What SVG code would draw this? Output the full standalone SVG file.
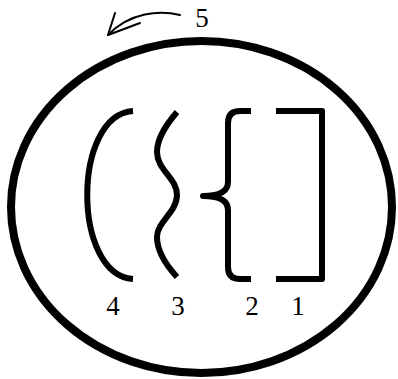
<svg xmlns="http://www.w3.org/2000/svg" width="398" height="379" viewBox="0 0 398 379">
<style>
.b{fill:none;stroke:#000;stroke-width:6;stroke-linecap:butt;stroke-linejoin:round}
.t{font-family:"Liberation Serif","Times New Roman",serif;font-size:27px;fill:#000;text-anchor:middle}
.a{fill:none;stroke:#000;stroke-width:2;stroke-linecap:round;stroke-linejoin:round}
</style>
<rect width="398" height="379" fill="#fff"/>
<g id="ellipse"><ellipse cx="201.5" cy="207" rx="190.5" ry="166" fill="none" stroke="#000" stroke-width="8"/></g>
<g id="arrow5">
<path class="a" d="M180,15 C160,10 130,12 108,35"/>
<path class="a" d="M115,13 L108,35 L140,23"/>
<text class="t" x="202" y="27">5</text>
</g>
<g id="paren4">
<path class="b" d="M133,111 C72,115 72,275 133,279"/>
<text class="t" x="113" y="315">4</text>
</g>
<g id="squiggle3">
<path class="b" d="M177,112 C166,125 157,138 157,152 C157,170 177,178 177,195 C177,212 157,222 157,237 C157,252 166,265 177,277"/>
<text class="t" x="178" y="315">3</text>
</g>
<g id="brace2">
<path class="b" d="M251,111 L240,111 Q228,111 228,123 L228,182 Q228,196 203,196 Q228,196 228,210 L228,267 Q228,279 240,279 L251,279"/>
<text class="t" x="252" y="315">2</text>
</g>
<g id="bracket1">
<path class="b" d="M276,111 L322,111 L322,279 L276,279"/>
<text class="t" x="298" y="315">1</text>
</g>
</svg>
